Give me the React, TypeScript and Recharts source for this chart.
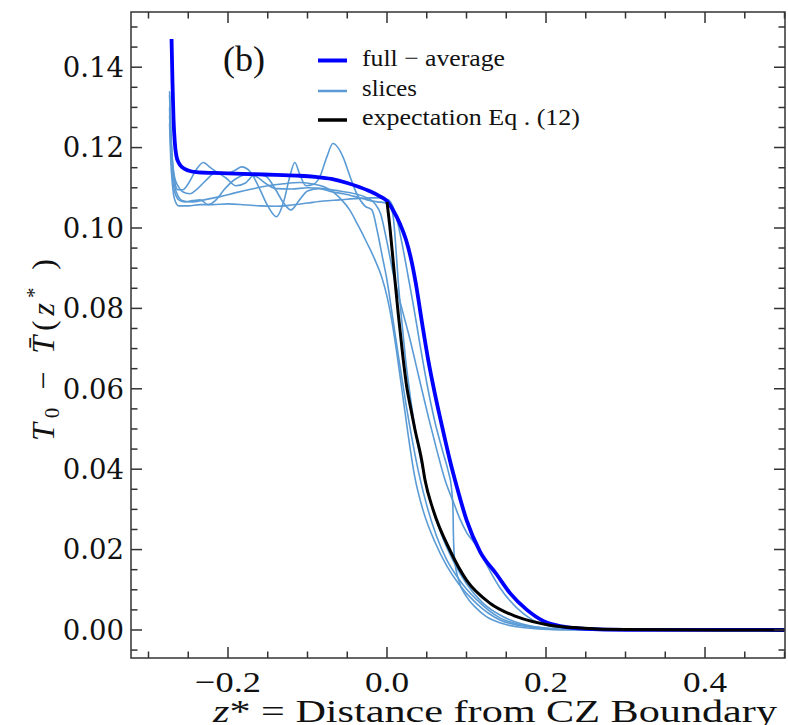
import { LineChart, Line, XAxis, YAxis } from "recharts";

// z* (distance from CZ boundary) vs T0 - Tbar(z*)
const fullAverage: [number, number][] = [
  [-0.271, 0.147], [-0.2698, 0.136], [-0.2685, 0.127], [-0.267, 0.1215], [-0.265, 0.118],
  [-0.262, 0.1162], [-0.257, 0.115], [-0.25, 0.1143], [-0.24, 0.1139], [-0.22, 0.1137],
  [-0.2, 0.1136], [-0.17, 0.1134], [-0.14, 0.1132], [-0.11, 0.113], [-0.09, 0.1127],
  [-0.07, 0.1122], [-0.05, 0.1112], [-0.035, 0.1102], [-0.02, 0.109], [-0.01, 0.108],
  [0.0, 0.1067], [0.008, 0.1043], [0.016, 0.1012], [0.024, 0.097], [0.03, 0.0925],
  [0.036, 0.0865], [0.044, 0.0765], [0.052, 0.067], [0.06, 0.059], [0.07, 0.05],
  [0.079, 0.0423], [0.088, 0.0355], [0.1, 0.0274], [0.117, 0.0195], [0.138, 0.0138],
  [0.155, 0.0091], [0.176, 0.005], [0.197, 0.0022], [0.22, 0.0009], [0.25, 0.0003],
  [0.3, 0.00005], [0.5, 0],
];

const expectation: [number, number][] = [
  [0.0, 0.1065], [0.004, 0.0995], [0.008, 0.0912], [0.0142, 0.0785], [0.02, 0.068],
  [0.0248, 0.0605], [0.03, 0.055], [0.0352, 0.0498], [0.0436, 0.0423], [0.0478, 0.0373],
  [0.058, 0.0299], [0.079, 0.0199], [0.1, 0.0124], [0.13, 0.0066], [0.163, 0.0033],
  [0.205, 0.0012], [0.243, 0.0005], [0.3, 0.0001], [0.5, 0],
];

const slice1: [number, number][] = [
  [-0.2735, 0.128], [-0.272, 0.121], [-0.27, 0.115], [-0.267, 0.1105], [-0.263, 0.108],
  [-0.257, 0.1068], [-0.245, 0.1065], [-0.23, 0.107], [-0.21, 0.1078], [-0.19, 0.1088],
  [-0.17, 0.1097], [-0.15, 0.1105], [-0.13, 0.111], [-0.11, 0.1113], [-0.095, 0.111],
  [-0.08, 0.1103], [-0.068, 0.109], [-0.057, 0.107], [-0.047, 0.1045], [-0.036, 0.1005],
  [-0.025, 0.0962], [-0.015, 0.092], [-0.007, 0.088], [0.0, 0.083], [0.006, 0.077],
  [0.013, 0.068], [0.02, 0.058], [0.027, 0.048], [0.035, 0.038], [0.045, 0.03],
  [0.06, 0.022], [0.075, 0.016], [0.09, 0.0115], [0.113, 0.0065], [0.142, 0.0025],
  [0.18, 0.0007], [0.22, 0.0001], [0.5, 0],
];

const slice2: [number, number][] = [
  [-0.2735, 0.134], [-0.272, 0.125], [-0.27, 0.117], [-0.267, 0.1115], [-0.263, 0.1095],
  [-0.257, 0.1095], [-0.25, 0.111], [-0.24, 0.1145], [-0.231, 0.1163], [-0.222, 0.115],
  [-0.212, 0.1138], [-0.2, 0.1137], [-0.19, 0.1145], [-0.183, 0.1152], [-0.172, 0.114],
  [-0.162, 0.1105], [-0.15, 0.1055], [-0.139, 0.1028], [-0.13, 0.1065], [-0.122, 0.113],
  [-0.116, 0.1163], [-0.11, 0.1135], [-0.102, 0.1105], [-0.093, 0.1108], [-0.084, 0.113],
  [-0.076, 0.1175], [-0.068, 0.121], [-0.061, 0.1198], [-0.055, 0.1175], [-0.0465, 0.1128],
  [-0.038, 0.1085], [-0.028, 0.1055], [-0.019, 0.1045], [-0.012, 0.099], [-0.006, 0.093],
  [0.0, 0.087], [0.008, 0.0765], [0.016, 0.066], [0.024, 0.056], [0.032, 0.047],
  [0.04, 0.039], [0.05, 0.031], [0.062, 0.0235], [0.075, 0.0175], [0.088, 0.0133],
  [0.1, 0.0102], [0.113, 0.0075], [0.142, 0.003], [0.18, 0.0009], [0.22, 0.0002], [0.5, 0],
];

const slice3: [number, number][] = [
  [-0.2735, 0.13], [-0.272, 0.12], [-0.27, 0.113], [-0.267, 0.109], [-0.262, 0.107],
  [-0.255, 0.1065], [-0.245, 0.1068], [-0.235, 0.107], [-0.225, 0.1058], [-0.215, 0.107],
  [-0.205, 0.1095], [-0.192, 0.112], [-0.178, 0.1132], [-0.165, 0.1128], [-0.152, 0.111],
  [-0.14, 0.1098], [-0.12, 0.1097], [-0.1, 0.11], [-0.08, 0.1098], [-0.06, 0.1092],
  [-0.04, 0.1085], [-0.025, 0.1075], [-0.015, 0.106], [-0.008, 0.1035], [0.0, 0.0965],
  [0.008, 0.0885], [0.018, 0.0805], [0.028, 0.073], [0.04, 0.063], [0.052, 0.053],
  [0.063, 0.0445], [0.073, 0.0373], [0.0835, 0.0318], [0.092, 0.0275], [0.1, 0.0243],
  [0.113, 0.0208], [0.122, 0.0175], [0.13, 0.0145], [0.142, 0.0105], [0.155, 0.0072],
  [0.17, 0.0043], [0.184, 0.0024], [0.21, 0.0008], [0.25, 0.0002], [0.5, 0],
];

const slice4: [number, number][] = [
  [-0.2735, 0.126], [-0.272, 0.117], [-0.27, 0.111], [-0.267, 0.107], [-0.262, 0.1055],
  [-0.25, 0.1055], [-0.235, 0.1058], [-0.22, 0.1058], [-0.2, 0.106], [-0.18, 0.1058],
  [-0.16, 0.1055], [-0.14, 0.1054], [-0.12, 0.1057], [-0.1, 0.1062], [-0.08, 0.1067],
  [-0.06, 0.107], [-0.04, 0.1073], [-0.02, 0.1075], [-0.008, 0.1075], [0.002, 0.107],
  [0.007, 0.1055], [0.012, 0.1025], [0.02, 0.095], [0.027, 0.0875], [0.033, 0.081],
  [0.0415, 0.071], [0.05, 0.0615], [0.06, 0.052], [0.07, 0.0445], [0.077, 0.0395],
  [0.081, 0.0355], [0.083, 0.03], [0.0835, 0.024], [0.085, 0.0175], [0.09, 0.0125],
  [0.1, 0.0083], [0.112, 0.0055], [0.125, 0.0033], [0.145, 0.0016], [0.17, 0.0006],
  [0.21, 0.0001], [0.5, 0],
];

const slice5: [number, number][] = [
  [-0.2735, 0.133], [-0.272, 0.124], [-0.27, 0.117], [-0.267, 0.1125], [-0.263, 0.1105],
  [-0.257, 0.109], [-0.248, 0.1085], [-0.24, 0.1095], [-0.228, 0.1118], [-0.215, 0.1138],
  [-0.203, 0.1125], [-0.19, 0.1105], [-0.178, 0.1112], [-0.165, 0.1135], [-0.152, 0.1128],
  [-0.14, 0.1095], [-0.13, 0.1062], [-0.121, 0.1045], [-0.11, 0.107], [-0.1, 0.1092],
  [-0.085, 0.1098], [-0.07, 0.109], [-0.055, 0.1085], [-0.04, 0.1078], [-0.025, 0.107],
  [-0.012, 0.1065], [-0.003, 0.1063], [0.004, 0.1055], [0.008, 0.1025], [0.011, 0.0955],
  [0.014, 0.087], [0.018, 0.078], [0.023, 0.068], [0.03, 0.057], [0.037, 0.048],
  [0.045, 0.04], [0.055, 0.032], [0.068, 0.024], [0.085, 0.0165], [0.1, 0.0115],
  [0.12, 0.0068], [0.145, 0.0034], [0.17, 0.0015], [0.2, 0.0005], [0.25, 0.0001], [0.5, 0],
];

const slices = [slice1, slice2, slice3, slice4, slice5];

const xTicks = [
  -0.3, -0.25, -0.2, -0.15, -0.1, -0.05, 0, 0.05, 0.1, 0.15, 0.2, 0.25, 0.3, 0.35, 0.4, 0.45, 0.5,
];
const yTicks = [
  -0.005, 0, 0.005, 0.01, 0.015, 0.02, 0.025, 0.03, 0.035, 0.04, 0.045, 0.05, 0.055, 0.06,
  0.065, 0.07, 0.075, 0.08, 0.085, 0.09, 0.095, 0.1, 0.105, 0.11, 0.115, 0.12, 0.125, 0.13,
  0.135, 0.14, 0.145, 0.15,
];

const FRAME = "#333";
const SLICE = "#5b9bd5";
const MAJ = 11;
const MIN = 6.5;

const W = 788;
const H = 725;
const M = { top: 12, right: 3, bottom: 0, left: 0 };
const LEFT_W = 131;
const BOTTOM_H = 67;
const X_DOMAIN: [number, number] = [-0.322, 0.5006];
const Y_DOMAIN: [number, number] = [-0.00697, 0.15373];

// plot box, same as what recharts lays out from the margins above
const PL = M.left + LEFT_W;
const PR = W - M.right;
const PT = M.top;
const PB = H - M.bottom - BOTTOM_H;
const sx = (v: number) => PL + ((v - X_DOMAIN[0]) / (X_DOMAIN[1] - X_DOMAIN[0])) * (PR - PL);
const sy = (v: number) => PB - ((v - Y_DOMAIN[0]) / (Y_DOMAIN[1] - Y_DOMAIN[0])) * (PB - PT);

const rows = (pts: [number, number][]) => pts.map(([x, y]) => ({ x, y }));
const isMajor = (v: number, step: number) => Math.abs(v / step - Math.round(v / step)) < 1e-6;
const fmtX = (v: number) => (v < -1e-9 ? "\u2212" : "") + Math.abs(v).toFixed(1);

function XTick(props: any) {
  const { x, y, payload } = props;
  const major = isMajor(payload.value, 0.2);
  return (
    <g>
      <line x1={x} x2={x} y1={y} y2={y - (major ? MAJ : MIN)} stroke={FRAME} strokeWidth={1.5} />
      {major && (
        <text
          x={x}
          y={y + 34}
          textAnchor="middle"
          fontFamily="'Liberation Serif', serif"
          fontSize={30}
          fill="#111"
          textLength={payload.value < -1e-9 ? 66 : 44}
          lengthAdjust="spacingAndGlyphs"
        >
          {fmtX(payload.value)}
        </text>
      )}
    </g>
  );
}

function YTick(props: any) {
  const { x, y, payload } = props;
  const major = isMajor(payload.value, 0.02);
  return (
    <g>
      <line x1={x} x2={x + (major ? MAJ : MIN)} y1={y} y2={y} stroke={FRAME} strokeWidth={1.5} />
      {major && (
        <text
          x={x - 7}
          y={y}
          dy="0.36em"
          textAnchor="end"
          fontFamily="'DejaVu Serif', serif"
          fontSize={27.5}
          fill="#111"
        >
          {payload.value.toFixed(2)}
        </text>
      )}
    </g>
  );
}

export default function App() {
  const topTicks = xTicks.map((v) => ({ x: sx(v), len: isMajor(v, 0.2) ? MAJ : MIN }));
  const rightTicks = yTicks.map((v) => ({ y: sy(v), len: isMajor(v, 0.02) ? MAJ : MIN }));
  return (
    <div style={{ position: "absolute", left: 0, top: 0, width: W, height: H, background: "#fff" }}>
      <LineChart width={W} height={H} margin={M}>
        <XAxis
          dataKey="x"
          type="number"
          domain={X_DOMAIN}
          allowDataOverflow
          ticks={xTicks}
          interval={0}
          tickSize={0}
          tickMargin={0}
          tickLine={false}
          tick={XTick}
          height={BOTTOM_H}
          axisLine={false}
        />
        <YAxis
          dataKey="y"
          type="number"
          domain={Y_DOMAIN}
          allowDataOverflow
          ticks={yTicks}
          interval={0}
          tickSize={0}
          tickMargin={0}
          tickLine={false}
          tick={YTick}
          width={LEFT_W}
          axisLine={false}
        />
        {slices.map((s, i) => (
          <Line
            key={i}
            data={rows(s)}
            dataKey="y"
            type="monotone"
            stroke={SLICE}
            strokeWidth={1.6}
            dot={false}
            activeDot={false}
            isAnimationActive={false}
          />
        ))}
        <Line
          data={rows(fullAverage)}
          dataKey="y"
          type="monotone"
          stroke="#0000ff"
          strokeWidth={3.8}
          dot={false}
          activeDot={false}
          isAnimationActive={false}
        />
        <Line
          data={rows(expectation)}
          dataKey="y"
          type="monotone"
          stroke="#000"
          strokeWidth={3}
          dot={false}
          activeDot={false}
          isAnimationActive={false}
        />
      </LineChart>
      <svg
        width={W}
        height={H}
        viewBox={`0 0 ${W} ${H}`}
        style={{ position: "absolute", left: 0, top: 0, pointerEvents: "none", zIndex: 5 }}
      >
        {/* frame, with inward ticks on the top and right edges */}
        <rect x={PL} y={PT} width={PR - PL} height={PB - PT} fill="none" stroke={FRAME} strokeWidth={1.5} />
        <path
          d={topTicks.map((t) => `M${t.x},${PT}V${PT + t.len}`).join("")}
          stroke={FRAME}
          strokeWidth={1.5}
          fill="none"
        />
        <path
          d={rightTicks.map((t) => `M${PR},${t.y}H${PR - t.len}`).join("")}
          stroke={FRAME}
          strokeWidth={1.5}
          fill="none"
        />
        <g fontFamily="'Liberation Serif', serif" fill="#111">
          <text x={223} y={71} fontSize={36}>(b)</text>
          <line x1={318} x2={347} y1={60.5} y2={60.5} stroke="#0000ff" strokeWidth={4} />
          <text x={362} y={66} fontSize={24} textLength={143} lengthAdjust="spacingAndGlyphs">
            {"full \u2212 average"}
          </text>
          <line x1={318} x2={347} y1={91} y2={91} stroke={SLICE} strokeWidth={2.5} />
          <text x={362} y={96} fontSize={24} textLength={55} lengthAdjust="spacingAndGlyphs">
            slices
          </text>
          <line x1={318} x2={347} y1={120} y2={120} stroke="#000" strokeWidth={3.5} />
          <text x={362} y={125} fontSize={24} textLength={218} lengthAdjust="spacingAndGlyphs">
            {"expectation  Eq . (12)"}
          </text>
          <text x={213} y={722} fontSize={32} textLength={564} lengthAdjust="spacingAndGlyphs">
            <tspan fontStyle="italic">z</tspan>
            <tspan>* = Distance from CZ Boundary</tspan>
          </text>
          <text
            transform="translate(54,441) rotate(-90)"
            x={0}
            y={0}
            fontSize={32}
            textLength={182}
            lengthAdjust="spacing"
          >
            <tspan fontStyle="italic">T</tspan>
            <tspan fontSize={21} dy={5}>0</tspan>
            <tspan dy={-5}>{" \u2212 "}</tspan>
            <tspan fontStyle="italic">{"T\u0304"}</tspan>
            <tspan>(</tspan>
            <tspan fontStyle="italic">z</tspan>
            <tspan fontSize={21} dy={-13}>*</tspan>
            <tspan dy={13}>{" )"}</tspan>
          </text>
        </g>
      </svg>
    </div>
  );
}
